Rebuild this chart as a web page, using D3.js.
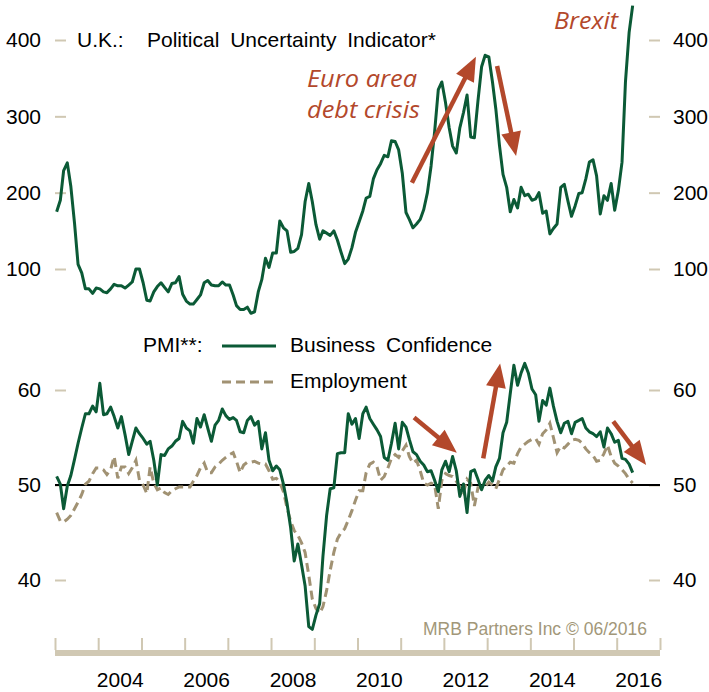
<!DOCTYPE html>
<html>
<head>
<meta charset="utf-8">
<script src="https://cdn.jsdelivr.net/npm/d3@7"></script>
<style>
  body { margin: 0; background: #fff; }
  svg { display: block; font-family: "Liberation Sans", Arial, sans-serif; }
</style>
</head>
<body>
<svg id="chart" width="709" height="692"></svg>
<script>
// Monthly series, January 2003 through May 2016
const firstYear = 2003;

const uncertainty = [
  175, 190, 229, 239, 208, 160, 106, 95, 74, 74, 68, 75,
  74, 70, 69, 74, 80, 78, 78, 75, 79, 83, 100, 100,
  82, 59, 58, 70, 77, 82, 76, 70, 81, 82, 90, 67,
  58, 54, 54, 60, 66, 82, 85, 79, 78, 78, 83, 79,
  79, 66, 52, 47, 47, 50, 42, 44, 70, 86, 114, 102,
  121, 121, 163, 154, 150, 122, 123, 127, 145, 188, 212, 188,
  158, 139, 150, 147, 144, 150, 138, 122, 107, 113, 128, 148,
  162, 176, 193, 195, 218, 230, 238, 249, 247, 268, 267, 256,
  225, 174, 165, 154, 159, 165, 178, 200, 235, 280, 335, 345,
  318, 285, 261, 252, 285, 305, 328, 273, 272, 320, 365, 380,
  378, 345, 310, 262, 224, 207, 175, 191, 180, 207, 196, 198,
  190, 192, 200, 173, 176, 146, 153, 159, 207, 211, 189, 169,
  183, 199, 200, 218, 240, 243, 222, 172, 196, 190, 212, 177,
  203, 240, 345, 410, 445
];

const businessConfidence = [
  50.9, 50.1, 47.5, 49.9, 51.0, 52.7, 54.4, 56.0, 57.5, 57.5, 58.3, 57.7,
  60.7, 57.4, 57.5, 58.2, 57.2, 56.0, 57.2, 55.3, 53.2, 54.6, 56.0, 55.4,
  54.9, 54.3, 54.6, 52.6, 50.0, 53.2, 53.1, 53.8, 54.1, 54.6, 54.9, 56.7,
  56.0, 55.7, 54.4, 57.0, 56.1, 57.4, 56.0, 54.6, 56.3, 56.8, 58.0, 57.3,
  56.9, 57.1, 56.8, 55.6, 55.5, 56.8, 57.2, 56.3, 56.7, 53.8, 55.5, 52.6,
  51.5, 52.0, 51.6, 50.1, 48.1, 45.5, 42.0, 43.8, 41.6, 39.4, 35.1, 34.8,
  36.3, 37.5, 42.5, 46.8, 49.6, 49.7, 53.3, 53.4, 53.4, 57.5, 56.4, 57.0,
  54.9, 57.5, 58.2, 57.0, 56.4, 55.8, 55.1, 52.9, 52.6, 54.4, 56.5, 53.8,
  56.6, 56.1, 54.8, 53.5, 53.2, 52.5, 52.1, 51.4, 51.5, 50.5, 49.3, 51.6,
  52.5, 51.4, 53.0, 51.5, 48.8, 50.1, 47.1, 51.4, 51.6, 50.6, 49.5, 50.5,
  51.0, 50.4, 51.9, 52.8, 55.5, 56.6, 59.6, 62.6, 60.5, 61.8, 62.8, 61.8,
  60.1, 59.5, 56.7, 58.9, 58.4, 60.2, 58.3, 56.7, 55.5, 56.5, 56.7, 55.4,
  56.6, 56.8, 57.0, 56.0, 55.6, 55.4, 55.1, 55.6, 54.0, 56.0, 55.4, 54.5,
  54.7, 52.8, 52.7, 52.2, 51.3
];

const employment = [
  47.1, 46.2, 46.1, 46.4, 46.8, 47.5, 48.2, 49.0, 50.1, 50.4, 51.2, 51.8,
  51.8, 51.6, 51.1, 51.6, 53.0, 50.7, 51.9, 51.9, 51.2, 51.8, 52.6, 50.5,
  50.0, 49.1, 51.9, 50.2, 49.5, 49.7, 49.2, 49.0, 49.4, 49.6, 49.8, 49.8,
  49.8, 49.8, 50.4, 51.0, 51.8, 52.3, 51.3, 51.3, 51.9, 52.2, 52.6, 52.9,
  53.2, 53.4, 52.5, 51.3, 52.1, 52.4, 52.4, 52.5, 52.3, 52.2, 52.2, 51.5,
  50.6, 50.7, 50.3, 49.3, 47.6, 46.2, 45.2, 44.7, 43.9, 42.9, 40.5, 38.0,
  37.0, 36.5, 37.2, 38.9, 41.0, 42.9, 44.3, 45.0, 45.4, 46.3, 47.3, 48.4,
  49.4, 49.4, 51.3, 52.2, 52.4, 51.9, 50.5, 50.9, 51.8, 52.8, 53.2, 52.9,
  53.6, 54.2, 53.0, 52.3, 52.6, 51.5, 50.2, 50.0, 50.2, 50.0, 47.5, 50.5,
  51.2, 51.0, 50.9, 50.4, 49.8, 49.2, 50.6, 50.2, 47.8, 49.7, 49.7, 49.8,
  50.3, 50.0, 49.6, 50.6, 51.6, 52.0, 52.4, 52.3, 53.3, 54.0, 54.3, 54.6,
  54.8, 54.9, 54.3, 55.4, 55.8, 56.5, 55.0, 53.4, 54.1, 53.9, 54.3, 54.7,
  54.8, 54.7, 54.4, 53.8, 53.4, 53.1, 52.5, 52.6, 53.3, 54.2, 53.0, 52.3,
  52.0, 51.6, 51.2, 50.6, 50.2
];

const uncertaintyTicks = [100, 200, 300, 400];
const pmiTicks = [40, 50, 60];
const yearLabels = [2004, 2006, 2008, 2010, 2012, 2014, 2016];
const pmiNeutral = 50;

// Trend arrows: [decimal year, value] pairs for tail and tip
const topArrows = [
  { from: [2011.26, 213], to: [2012.74, 378] },
  { from: [2013.23, 366], to: [2013.67, 248] }
];
const pmiArrows = [
  { from: [2011.31, 57.1], to: [2012.30, 53.4] },
  { from: [2012.91, 52.8], to: [2013.30, 62.8] },
  { from: [2015.92, 56.7], to: [2016.68, 52.1] }
];

const GREEN = "#0b5a36";
const TAN_LINE = "#a19273";
const TAN_AXIS = "#d0c8b3";
const RUST = "#b3482b";
const FONT = "'Liberation Sans', Arial, sans-serif";

const svg = d3.select("#chart");
svg.append("rect").attr("width", 709).attr("height", 692).attr("fill", "#fff");

const dates = uncertainty.map((_, i) => new Date(firstYear, i, 15));
const decYear = y => {
  const yr = Math.floor(y);
  const a = new Date(yr, 0, 1), b = new Date(yr + 1, 0, 1);
  return new Date(+a + (y - yr) * (b - a));
};

const x = d3.scaleTime()
  .domain([new Date(2003, 0, 1), new Date(2017, 0, 1)])
  .range([55, 660]);
const yTop = d3.scaleLinear().domain([100, 400]).range([269, 40]);
const yPmi = d3.scaleLinear().domain([40, 60]).range([580, 390]);

// Value axes on both sides
function valueAxes(scale, ticks) {
  const left = svg.append("g").attr("transform", "translate(55,0)")
    .call(d3.axisLeft(scale).tickValues(ticks).tickSizeInner(-11).tickSizeOuter(0).tickPadding(14));
  const right = svg.append("g").attr("transform", "translate(660,0)")
    .call(d3.axisRight(scale).tickValues(ticks).tickSizeInner(-11).tickSizeOuter(0).tickPadding(13));
  [left, right].forEach(g => {
    g.select(".domain").remove();
    g.selectAll(".tick line").attr("stroke", TAN_AXIS).attr("stroke-width", 2);
    g.selectAll(".tick text").attr("fill", "#000").attr("font-size", 21)
      .attr("font-family", FONT);
  });
}
valueAxes(yTop, uncertaintyTicks);
valueAxes(yPmi, pmiTicks);

// Time axis: band, yearly ticks, labels centred on the year
svg.append("rect").attr("x", 55).attr("y", 650).attr("width", 605).attr("height", 6)
  .attr("fill", TAN_AXIS);
const yearTicks = svg.append("g").attr("transform", "translate(0,650)")
  .call(d3.axisBottom(x).ticks(d3.timeYear.every(1)).tickSizeInner(-12).tickSizeOuter(0).tickFormat(""));
yearTicks.select(".domain").remove();
yearTicks.selectAll(".tick line").attr("stroke", TAN_AXIS).attr("stroke-width", 2);

const labelAxis = svg.append("g").attr("transform", "translate(0,656)")
  .call(d3.axisBottom(x).tickValues(yearLabels.map(y => new Date(y, 6, 1)))
    .tickSize(0).tickPadding(16).tickFormat(d3.timeFormat("%Y")));
labelAxis.select(".domain").remove();
labelAxis.selectAll(".tick text").attr("fill", "#000").attr("font-size", 21)
  .attr("font-family", FONT);

// PMI 50 reference line
svg.append("line")
  .attr("x1", 55).attr("x2", 660)
  .attr("y1", yPmi(pmiNeutral)).attr("y2", yPmi(pmiNeutral))
  .attr("stroke", "#000").attr("stroke-width", 2);

// Series lines
const lineTop = d3.line().x((d, i) => x(dates[i])).y(d => yTop(d));
const linePmi = d3.line().x((d, i) => x(dates[i])).y(d => yPmi(d));

svg.append("path").datum(employment).attr("d", linePmi)
  .attr("fill", "none").attr("stroke", TAN_LINE).attr("stroke-width", 3)
  .attr("stroke-dasharray", "9,5");
svg.append("path").datum(businessConfidence).attr("d", linePmi)
  .attr("fill", "none").attr("stroke", GREEN).attr("stroke-width", 3)
  .attr("stroke-linejoin", "round");
svg.append("path").datum(uncertainty).attr("d", lineTop)
  .attr("fill", "none").attr("stroke", GREEN).attr("stroke-width", 3)
  .attr("stroke-linejoin", "round");

// Titles and legend
const txt = (t, px, py, opts = {}) => svg.append("text")
  .attr("x", px).attr("y", py).attr("font-size", opts.size || 21)
  .attr("word-spacing", opts.ws == null ? 5 : opts.ws)
  .attr("fill", opts.fill || "#000").attr("text-anchor", opts.anchor || "start")
  .text(t);

txt("U.K.:", 77, 47);
txt("Political Uncertainty Indicator*", 147, 47);

txt("PMI**:", 143, 352);
svg.append("line").attr("x1", 222).attr("x2", 276).attr("y1", 346).attr("y2", 346)
  .attr("stroke", GREEN).attr("stroke-width", 3);
txt("Business Confidence", 290, 352);
svg.append("line").attr("x1", 222).attr("x2", 276).attr("y1", 382).attr("y2", 382)
  .attr("stroke", TAN_LINE).attr("stroke-width", 3).attr("stroke-dasharray", "9,5");
txt("Employment", 290, 388);

txt("MRB Partners Inc \u00A9 06/2016", 647, 635, { size: 17.5, fill: "#a29779", anchor: "end", ws: 0 });

// Annotations
const note = (t, px, py, len) => svg.append("text")
  .attr("x", px).attr("y", py)
  .attr("font-family", "'Open Sans', 'Noto Sans', sans-serif")
  .attr("font-style", "italic").attr("font-size", 23).attr("fill", RUST)
  .attr("textLength", len).attr("lengthAdjust", "spacingAndGlyphs")
  .text(t);
note("Euro area", 307, 87, 110);
note("debt crisis", 307, 118, 113);
note("Brexit", 554, 29, 64);

function arrow(p0, p1) {
  const dx = p1[0] - p0[0], dy = p1[1] - p0[1];
  const L = Math.hypot(dx, dy), ux = dx / L, uy = dy / L;
  const head = 24, half = 10;
  const bx = p1[0] - ux * head, by = p1[1] - uy * head;
  svg.append("line").attr("x1", p0[0]).attr("y1", p0[1]).attr("x2", bx + ux * 2).attr("y2", by + uy * 2)
    .attr("stroke", RUST).attr("stroke-width", 4.5);
  svg.append("path")
    .attr("d", `M${p1[0]},${p1[1]}L${bx - uy * half},${by + ux * half}L${bx + uy * half},${by - ux * half}Z`)
    .attr("fill", RUST);
}
topArrows.forEach(a => arrow(
  [x(decYear(a.from[0])), yTop(a.from[1])],
  [x(decYear(a.to[0])), yTop(a.to[1])]));
pmiArrows.forEach(a => arrow(
  [x(decYear(a.from[0])), yPmi(a.from[1])],
  [x(decYear(a.to[0])), yPmi(a.to[1])]));
</script>
</body>
</html>
